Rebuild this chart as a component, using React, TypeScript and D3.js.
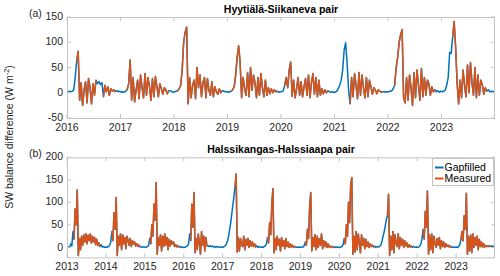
import React from 'react';
import * as d3 from 'd3';

const PER_YEAR = 36;

const hyyStart = 2016;
const hyyGapfilled = [
  [2, 3, 2, 3, 5, 30, 62, 82, -15, 20, -25, 5, 22, -20, 28, 10, -22, 18, -5, 25, 18, 22, 16, 20, -8, 15, 2, 12, -5, 8, 3, 6, 2, 4, 2, 3],
  [1, 2, 1, 3, 6, 18, 65, -15, 30, -18, 5, 25, -12, 35, 10, -10, 38, -5, 30, 12, -15, 28, -8, 32, 12, -8, 18, 8, -3, 10, 6, -2, 4, 4, 2, 1],
  [2, 3, 4, 8, 15, 45, 100, 120, 130, -22, 30, -10, 15, 25, -12, 50, 10, 35, -8, 20, 30, -10, 28, 5, -5, 22, -8, 12, 2, -3, 8, 0, 4, 3, 2, 2],
  [1, 2, 3, 6, 12, 35, 70, 93, 60, -10, 30, 8, -5, 40, -8, 50, 5, 35, 20, -10, 30, -5, 38, 10, -8, 25, -5, 10, -2, 8, 0, 6, 2, 3, 1, 2],
  [2, 4, 15, 30, 10, 45, 61, -7, 25, -10, 8, 30, -5, 22, -8, 12, 28, -5, 35, -10, 20, 38, -3, 30, -8, 25, -5, 8, -2, 6, 0, 4, 2, 1, 2, 1],
  [1, 3, 8, 15, 25, 45, 85, 99, 58, 5, -22, 30, -8, 38, 15, -12, 40, -5, 35, 10, -10, 30, -8, 25, 12, -3, 10, 5, -2, 6, 3, 1, 2, 2, 1, 2],
  [2, 3, 4, 8, 15, 50, 70, 100, 115, 125, -10, -20, 30, -15, 35, 10, -25, 40, -10, 45, 15, -15, 48, -8, 30, -5, 25, 18, -5, 12, 2, 6, 2, 4, 1, 3],
  [2, 3, 5, 15, 30, 80, 78, 110, 141, 90, 20, -22, 25, -10, 45, 15, -8, 55, 0, 60, 20, -5, 50, -10, 35, -5, 25, 15, -3, 10, 3, 6, 2, 3, 2, 3],
];
// periods with no measured value (gapfilled only)
const hyyGaps = [
  [2016.0, 2016.16], [2016.56, 2016.66], [2016.93, 2017.1], [2017.92, 2018.06], [2018.92, 2019.05],
  [2019.95, 2020.05], [2020.9, 2021.27], [2021.93, 2022.1], [2022.9, 2023.2], [2023.86, 2024.0],
];
const hyyYTicks = [-50, 0, 50, 100, 150];
const hyyXTicks = [2016, 2017, 2018, 2019, 2020, 2021, 2022, 2023];

const halStart = 2013;
const halGapfilled = [
  [0, 1, 1, 8, 3, 35, 18, 85, 50, 128, -18, 20, -5, 25, 5, 28, 12, 30, 8, 27, 15, 30, 10, 25, 12, 22, 6, 18, 4, 10, 2, 6, 1, 2, 0, 1],
  [0, 1, 2, 5, 12, 35, 15, 77, 40, 111, -18, 25, 5, 30, -5, 28, 8, 22, -3, 25, 15, 5, 20, 2, 15, 8, 12, 3, 8, 2, 5, 1, 2, 0, 1, 1],
  [0, 1, 2, 5, 20, 8, 50, 25, 96, 60, 144, -15, 22, 5, 28, -8, 25, 2, 30, 5, 22, -5, 18, 3, 15, 8, 12, 2, 6, 1, 4, 1, 2, 0, 1, 0],
  [0, 1, 2, 4, 8, 30, 15, 96, 45, 122, -12, 20, -5, 30, 8, -15, 35, 5, 25, -8, 22, 3, 4, 2, 3, 2, 3, 1, 2, 0, 2, 1, 1, 0, 1, 1],
  [0, 2, 4, 8, 14, 25, 40, 55, 75, 95, 114, 135, 163, -10, 22, -8, 20, 5, 2, 25, -5, 18, 5, 20, 0, 15, 3, 12, 2, 8, 1, 4, 0, 2, 1, 0],
  [1, 0, 2, 3, 8, 22, 10, 55, 28, 95, 130, -12, 20, -5, 25, 5, 18, -8, 22, 3, 15, -3, 20, 2, 12, 0, 8, 1, 5, 0, 2, 1, 0, 1, 0, 1],
  [0, 1, 1, 4, 12, 5, 40, 20, 90, 122, -8, 22, 2, 28, -5, 25, 0, 20, 5, 30, -3, 15, 2, 12, 0, 8, 1, 3, 0, 2, 1, 0, 1, 0, 1, 0],
  [0, 1, 2, 6, 20, 8, 50, 25, 100, 55, 140, 155, -15, 25, -10, 35, -5, 30, 10, -12, 28, 5, 20, -3, 18, 2, 12, 0, 8, 2, 5, 1, 3, 0, 2, 1],
  [1, 3, 6, 15, 25, 35, 48, 63, 70, 118, -18, 25, -5, 35, -12, 28, 10, 2, 30, -3, 22, 5, 18, 0, 15, 3, 10, 0, 6, 1, 3, 0, 2, 1, 0, 1],
  [0, 1, 3, 8, 20, 40, 18, 80, 45, 125, -15, 28, -5, 30, -12, 25, 8, 0, 20, 5, 22, -3, 15, 2, 12, 0, 8, 2, 5, 1, 3, 0, 1, 0, 1, 0],
  [1, 0, 2, 6, 18, 35, 15, 70, 40, 120, -15, 25, -8, 28, -12, 30, 0, 22, 5, 25, -5, 18, 2, 12, 0, 8, 1, 4, 2, 3, 2, 3, 2, 3, 2, 3],
];
const halGaps = [
  [2013.0, 2013.17], [2013.86, 2014.15], [2014.9, 2015.1], [2015.9, 2016.17], [2016.6, 2017.31],
  [2017.88, 2018.15], [2018.9, 2019.1], [2019.9, 2020.12], [2020.92, 2021.23], [2021.9, 2022.14],
  [2022.9, 2023.1], [2023.88, 2024.0],
];
const halYTicks = [0, 50, 100, 150, 200];
const halXTicks = [2013, 2014, 2015, 2016, 2017, 2018, 2019, 2020, 2021, 2022, 2023];

const BLUE = '#0072BD';
const ORANGE = '#D95319';
const TXT = '#262626';
const FRAME = '#c4c4c4';
const FONT = '"Liberation Sans", Arial, sans-serif';

const L = 67, R = 495;

type Pt = { t: number; v: number };

const toPoints = (start: number, rows: number[][]): Pt[] =>
  rows.flatMap((row, k) => row.map((v, j) => ({ t: start + k + (j + 0.5) / PER_YEAR, v })));

const inGap = (t: number, gaps: number[][]) => gaps.some(([a, b]) => t >= a && t <= b);

function Panel(props: any) {
  const { id, top, bottom, yDomain, yTicks, xDomain, xTicks, rows, start, gaps, title, tag, legend } = props;
  const x = d3.scaleLinear().domain(xDomain).range([L, R]);
  const y = d3.scaleLinear().domain(yDomain).range([bottom, top]);
  const pts = toPoints(start, rows);
  const full = d3.line<Pt>().x(d => x(d.t)).y(d => y(d.v));
  const meas = d3.line<Pt>().defined(d => !inGap(d.t, gaps)).x(d => x(d.t)).y(d => y(d.v));
  const tl = 4;

  return (
    <g>
      <defs>
        <clipPath id={id}>
          <rect x={L} y={top} width={R - L} height={bottom - top} />
        </clipPath>
      </defs>
      <g clipPath={`url(#${id})`}>
        <path d={full(pts) || ''} fill="none" stroke={BLUE} strokeWidth={1.5} strokeLinejoin="round" />
        <path d={meas(pts) || ''} fill="none" stroke={ORANGE} strokeWidth={1.5} strokeLinejoin="round" />
      </g>
      <rect x={L + 0.5} y={top + 0.5} width={R - L - 1} height={bottom - top} fill="none" stroke={FRAME} strokeWidth={1} />
      {xTicks.map((t: number) => (
        <g key={'x' + t}>
          <line x1={x(t)} x2={x(t)} y1={bottom} y2={bottom - tl} stroke={FRAME} />
          <line x1={x(t)} x2={x(t)} y1={top} y2={top + tl} stroke={FRAME} />
          <text x={x(t)} y={bottom + 12.8} textAnchor="middle" fontSize={10.5} fill={TXT} fontFamily={FONT}>{t}</text>
        </g>
      ))}
      {yTicks.map((v: number) => (
        <g key={'y' + v}>
          <line x1={L} x2={L + tl} y1={y(v)} y2={y(v)} stroke={FRAME} />
          <line x1={R - tl} x2={R} y1={y(v)} y2={y(v)} stroke={FRAME} />
          <text x={L - 4} y={y(v)} dy="0.3em" textAnchor="end" fontSize={10.5} fill={TXT} fontFamily={FONT}>{v}</text>
        </g>
      ))}
      <text x={(L + R) / 2} y={top - 4.5} textAnchor="middle" fontSize={10.5} fontWeight="bold" fill="#000" fontFamily={FONT}>{title}</text>
      <text x={29} y={top - 0.5} fontSize={10.5} fill={TXT} fontFamily={FONT}>{tag}</text>
      {legend && (
        <g fontFamily={FONT} fontSize={10.5} fill="#000">
          <rect x={432.5} y={158.5} width={61} height={27} fill="#fff" stroke={FRAME} />
          <line x1={435} x2={443.5} y1={167.5} y2={167.5} stroke={BLUE} strokeWidth={2} />
          <text x={444.5} y={171.2}>Gapfilled</text>
          <line x1={435} x2={443.5} y1={178.5} y2={178.5} stroke={ORANGE} strokeWidth={2} />
          <text x={444.5} y={182.2}>Measured</text>
        </g>
      )}
    </g>
  );
}

export default function App() {
  return (
    <svg width={500} height={276} style={{ position: 'absolute', left: 0, top: 0, background: '#fff' }}>
      <Panel id="clipA" top={17} bottom={118} yDomain={[-50, 150]} yTicks={hyyYTicks}
        xDomain={[2016, 2024]} xTicks={hyyXTicks} rows={hyyGapfilled} start={hyyStart}
        gaps={hyyGaps} title="Hyytiälä-Siikaneva pair" tag="(a)" />
      <Panel id="clipB" top={157.3} bottom={257.3} yDomain={[-22, 200]} yTicks={halYTicks}
        xDomain={[2013, 2024]} xTicks={halXTicks} rows={halGapfilled} start={halStart}
        gaps={halGaps} title="Halssikangas-Halssiaapa pair" tag="(b)" legend />
      <text transform="translate(13,137) rotate(-90)" textAnchor="middle" fontSize={10.5} fill={TXT}
        fontFamily={FONT}>
        SW balance difference (W m<tspan dy="-4" fontSize={7.5}>-2</tspan><tspan dy="4">)</tspan>
      </text>
    </svg>
  );
}
